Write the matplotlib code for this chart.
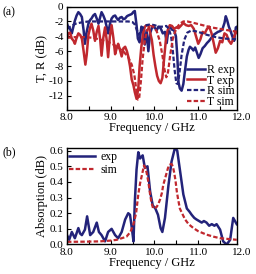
"""Transmission/reflection spectra (a) and absorption (b), exp vs sim."""

import matplotlib

matplotlib.use("Agg")
import matplotlib.pyplot as plt

# --------------------------------------------------------------------- DATA

# (a) reflection, experiment
r_exp_f = [8.00, 8.03, 8.07, 8.11, 8.15, 8.18, 8.22, 8.26, 8.30, 8.34, 8.38, 8.41, 8.45,
           8.49, 8.53, 8.56, 8.60, 8.64, 8.68, 8.72, 8.76, 8.79, 8.83, 8.87, 8.91, 8.94,
           8.98, 9.02, 9.06, 9.10, 9.14, 9.17, 9.21, 9.25, 9.29, 9.33, 9.37, 9.40, 9.44,
           9.48, 9.52, 9.55, 9.59, 9.62, 9.66, 9.70, 9.74, 9.78, 9.82, 9.86, 9.90, 9.95,
           10.00, 10.05, 10.09, 10.14, 10.19, 10.24, 10.28, 10.32, 10.35, 10.40, 10.45,
           10.49, 10.52, 10.55, 10.58, 10.62, 10.66, 10.70, 10.74, 10.78, 10.81, 10.85,
           10.89, 10.93, 10.97, 11.01, 11.05, 11.10, 11.15, 11.20, 11.25, 11.30, 11.35,
           11.40, 11.45, 11.50, 11.55, 11.60, 11.63, 11.66, 11.70, 11.74, 11.78, 11.82,
           11.86, 11.89]
r_exp_db = [-2.3, -2.8, -3.0, -3.6, -2.6, -1.9, -1.2, -0.75, -1.0, -1.4, -3.2, -5.0, -3.4,
            -2.3, -1.8, -1.6, -1.2, -1.0, -1.6, -2.3, -1.4, -0.75, -1.2, -1.8, -2.8, -3.6,
            -2.4, -1.6, -1.3, -1.2, -1.6, -1.8, -1.5, -1.4, -1.7, -1.6, -1.3, -1.2, -1.1,
            -1.0, -0.7, -0.6, -2.5, -4.3, -4.8, -2.7, -3.0, -5.1, -3.2, -6.0, -3.6, -2.7,
            -2.8, -3.2, -2.7, -2.9, -3.6, -3.4, -4.9, -3.0, -2.7, -3.1, -3.2,
            -4.0, -6.5, -10.2, -11.0, -11.3, -10.4, -8.5, -6.7, -5.8, -5.4, -5.6,
            -5.9, -5.5, -6.2, -6.9, -6.4, -5.6, -5.3, -4.9, -4.6, -4.2, -3.8,
            -3.6, -3.4, -3.3, -3.1, -2.2, -1.3, -1.8, -2.7, -3.3, -4.0, -4.6,
            -2.8, -2.7]

# (a) transmission, experiment
t_exp_f = [8.00, 8.03, 8.07, 8.11, 8.15, 8.18, 8.22, 8.26, 8.30, 8.34, 8.38, 8.42, 8.45,
           8.49, 8.53, 8.56, 8.60, 8.64, 8.68, 8.72, 8.76, 8.79, 8.83, 8.87, 8.91, 8.94,
           8.98, 9.02, 9.06, 9.10, 9.14, 9.17, 9.21, 9.25, 9.29, 9.33, 9.37, 9.40, 9.44,
           9.48, 9.52, 9.55, 9.59, 9.63, 9.66, 9.70, 9.74, 9.78, 9.82, 9.86, 9.90, 9.94,
           9.98, 10.02, 10.06, 10.10, 10.14, 10.18, 10.22, 10.26, 10.30, 10.35, 10.40,
           10.45, 10.50, 10.55, 10.60, 10.66, 10.72, 10.78, 10.84, 10.90, 10.95, 11.00,
           11.05, 11.10, 11.15, 11.20, 11.25, 11.30, 11.35, 11.40, 11.45, 11.50, 11.55,
           11.60, 11.65, 11.70, 11.75, 11.80, 11.85, 11.89]
t_exp_db = [-4.2, -3.6, -3.5, -4.3, -4.6, -5.0, -4.2, -3.6, -3.8, -4.3, -6.0, -7.8, -6.5,
            -3.8, -2.8, -2.3, -3.2, -4.6, -3.4, -2.6, -4.5, -6.6, -4.2, -2.8, -4.6, -6.8,
            -4.0, -2.5, -4.2, -6.4, -5.5, -5.0, -5.8, -6.7, -5.6, -5.4, -6.0, -6.7, -8.0,
            -9.8, -10.6, -11.5, -12.4, -11.0, -8.0, -5.4, -3.6, -2.7, -2.5, -2.5, -3.5, -4.5,
            -6.5, -8.0, -9.3, -10.0, -10.3, -9.6, -7.0, -4.5, -3.2, -2.5, -2.6,
            -3.0, -2.8, -2.9, -2.6, -2.2, -2.5, -2.6, -2.5, -3.0, -4.0, -5.0,
            -4.4, -3.4, -3.6, -3.0, -2.7, -3.5, -4.8, -6.2, -5.6, -4.6, -4.8,
            -3.6, -3.8, -4.6, -5.0, -4.4, -3.6, -3.4]

# (a) simulation
r_sim_f = [8.0, 8.1, 8.2, 8.35, 8.5, 8.8, 9.1, 9.4, 9.5, 9.55, 9.6, 9.64, 9.68, 9.74, 9.82,
           9.9, 10.0, 10.1, 10.2, 10.27, 10.33, 10.38, 10.42, 10.46, 10.5, 10.53, 10.57,
           10.62, 10.68, 10.75, 10.85, 11.0, 11.2, 11.4, 11.6, 11.89]
r_sim_db = [-3.0, -2.6, -2.3, -2.1, -2.0, -2.0, -2.0, -2.0, -2.1, -2.4, -3.2, -3.8, -3.4,
            -2.8, -2.5, -2.4, -2.5, -2.7, -2.7, -2.6, -3.0, -4.0, -6.0, -8.5, -10.3, -10.4,
            -9.0, -6.5, -4.5, -3.5, -3.2, -3.4, -3.8, -4.1, -4.3, -4.4]
t_sim_f = [8.0, 8.2, 8.4, 8.6, 8.8, 9.0, 9.15, 9.3, 9.4, 9.48, 9.54, 9.58, 9.62, 9.65,
           9.69, 9.73, 9.78, 9.83, 9.9, 9.97, 10.05, 10.12, 10.18, 10.23, 10.27, 10.31,
           10.36, 10.42, 10.5, 10.58, 10.66, 10.75, 10.9, 11.1, 11.3, 11.5, 11.7, 11.89]
t_sim_db = [-4.2, -4.1, -4.1, -4.2, -4.5, -4.9, -5.4, -6.1, -6.8, -7.8, -9.2, -11.0, -12.5,
            -12.3, -10.0, -7.0, -4.5, -3.2, -2.6, -2.7, -3.3, -4.6, -6.5, -8.5, -9.5, -8.8,
            -6.5, -4.3, -2.9, -2.3, -2.0, -2.0, -2.2, -2.5, -2.8, -3.0, -3.2, -3.4]

# (b) absorption
abs_exp_f = [8.00, 8.05, 8.11, 8.18, 8.26, 8.30, 8.34, 8.41, 8.46, 8.53, 8.60, 8.68, 8.73,
             8.79, 8.87, 8.94, 9.02, 9.10, 9.17, 9.25, 9.33, 9.40, 9.44, 9.48, 9.52, 9.55,
             9.59, 9.63, 9.67, 9.73, 9.78, 9.84, 9.90, 9.96, 10.02, 10.08, 10.14, 10.18,
             10.24, 10.32, 10.39, 10.47, 10.52, 10.58, 10.66, 10.74, 10.80, 10.85, 10.91,
             10.96, 11.02, 11.08, 11.13, 11.19, 11.25, 11.31, 11.37, 11.42, 11.50, 11.57,
             11.65, 11.73, 11.80, 11.88]
abs_exp = [0.06, 0.03, 0.08, 0.04, 0.105, 0.07, 0.06, 0.095, 0.18, 0.06, 0.08, 0.14, 0.08,
           0.06, 0.02, 0.08, 0.10, 0.06, 0.04, 0.08, 0.16, 0.20, 0.19, 0.11, 0.02, 0.27,
           0.48, 0.59, 0.55, 0.57, 0.49, 0.50, 0.34, 0.25, 0.23, 0.19, 0.105, 0.08,
           0.17, 0.38, 0.53, 0.62, 0.60, 0.48, 0.32, 0.23, 0.21, 0.19, 0.17,
           0.16, 0.15, 0.14, 0.15, 0.14, 0.12, 0.13, 0.12, 0.13, 0.095, 0.02,
           0.0, 0.03, 0.17, 0.13]
abs_sim_f = [8.0, 8.4, 8.75, 9.0, 9.14, 9.36, 9.45, 9.52, 9.58, 9.63, 9.67, 9.71, 9.76, 9.79,
             9.82, 9.86, 9.90, 9.93, 9.97, 10.01, 10.05, 10.09, 10.13, 10.17, 10.20, 10.24,
             10.28, 10.31, 10.35, 10.39, 10.42, 10.45, 10.48, 10.51, 10.54, 10.58, 10.63,
             10.70, 10.78, 10.89, 11.0, 11.19, 11.35, 11.50, 11.7, 11.88]
abs_sim = [0.017, 0.018, 0.02, 0.025, 0.03, 0.05, 0.08, 0.13, 0.2, 0.32, 0.39, 0.44, 0.505,
           0.49, 0.46, 0.40, 0.32, 0.27, 0.23, 0.235, 0.24, 0.26, 0.29, 0.33, 0.38, 0.42,
           0.46, 0.49, 0.51, 0.515, 0.5, 0.46, 0.41, 0.34, 0.29, 0.23, 0.2,
           0.16, 0.13, 0.105, 0.085, 0.063, 0.05, 0.04, 0.035, 0.03]

# ------------------------------------------------------------------- STYLE

NAVY = "#23237a"
RED = "#c0282e"
XMAX = 11.886
TICK_FS = 8
LABEL_FS = 9
LEGEND_FS = 8.5

plt.rcParams["font.family"] = ["Liberation Serif", "DejaVu Serif"]
plt.rcParams["axes.unicode_minus"] = False


def _style(ax):
    ax.set_xlim(8.0, XMAX)
    ax.set_xticks([8, 8.5, 9, 9.5, 10, 10.5, 11, 11.5])
    ax.set_xticklabels(["8.0", "", "9.0", "", "10.0", "", "11.0", ""])
    ax.tick_params(direction="in", length=3, width=0.8, labelsize=TICK_FS, pad=2.5)
    for s in ax.spines.values():
        s.set_linewidth(1.0)
    # the source figure puts its last label beyond the plotted range
    ax.annotate("12.0", xy=(12.0, 0), xycoords=("data", "axes fraction"),
                xytext=(0, -2.5), textcoords="offset points", ha="center", va="top",
                fontsize=TICK_FS, annotation_clip=False)
    ax.set_xlabel("Frequency / GHz", fontsize=LABEL_FS, labelpad=0)


fig = plt.figure(figsize=(2.56, 2.74), dpi=100)

ax1 = fig.add_axes([0.2617, 0.5985, 0.664, 0.3775])
ax1.plot(r_exp_f, r_exp_db, color=NAVY, lw=1.8, label="R exp")
ax1.plot(t_exp_f, t_exp_db, color=RED, lw=1.8, label="T exp")
ax1.plot(r_sim_f, r_sim_db, color=NAVY, lw=1.6, ls=(0, (2, 1)), label="R sim")
ax1.plot(t_sim_f, t_sim_db, color=RED, lw=1.6, ls=(0, (2, 1)), label="T sim")
ax1.set_ylim(-13.9, 0)
ax1.set_yticks(range(-12, 1, 2))
ax1.set_ylabel("T, R (dB)", fontsize=LABEL_FS, labelpad=1)
_style(ax1)
ax1.legend(loc="lower right", frameon=False, fontsize=LEGEND_FS, handlelength=1.5,
           handletextpad=0.2, labelspacing=-0.1, borderaxespad=0.05, borderpad=0.1)
fig.text(0.01, 0.978, "(a)", fontsize=8.5, va="top")

ax2 = fig.add_axes([0.2617, 0.1077, 0.664, 0.351])
ax2.plot(abs_exp_f, abs_exp, color=NAVY, lw=1.8, label="exp")
ax2.plot(abs_sim_f, abs_sim, color=RED, lw=1.6, ls=(0, (2, 1)), label="sim")
ax2.set_ylim(0, 0.615)
ax2.set_yticks([0.0, 0.1, 0.2, 0.3, 0.4, 0.5, 0.6])
ax2.set_yticklabels([f"{v:.1f}" for v in ax2.get_yticks()])
ax2.set_ylabel("Absorption (dB)", fontsize=LABEL_FS, labelpad=1)
_style(ax2)
ax2.legend(loc="upper left", frameon=False, fontsize=LEGEND_FS, handlelength=2.2,
           handletextpad=0.4, labelspacing=0.1, borderaxespad=0.1, borderpad=0.1)
fig.text(0.01, 0.465, "(b)", fontsize=8.5, va="top")

fig.savefig("out.png", dpi=100)
